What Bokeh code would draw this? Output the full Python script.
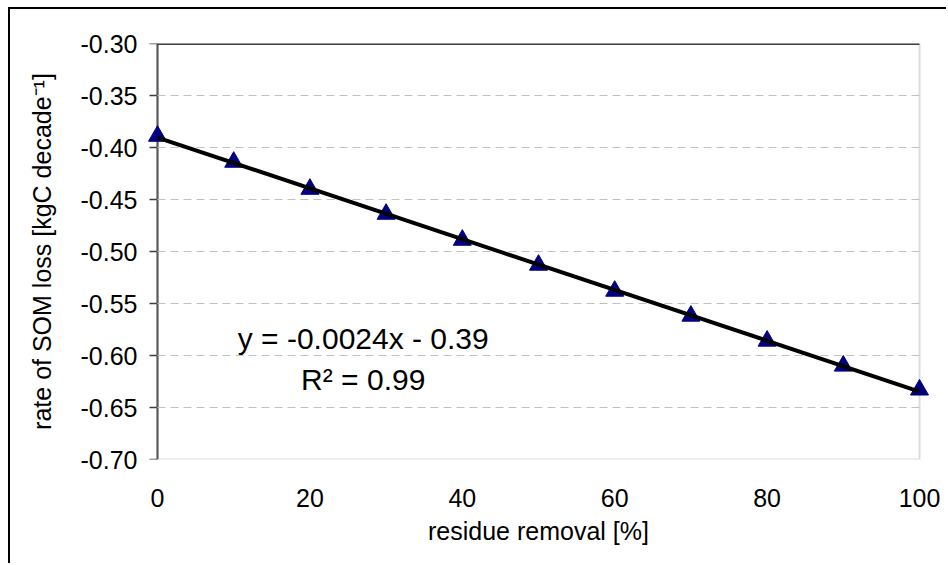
import numpy as np
from bokeh.plotting import figure
from bokeh.models import (BoxAnnotation, Label, FixedTicker, Range1d, LinearAxis,
                          CustomLabelingPolicy)
from bokeh.embed import file_html
from bokeh.resources import INLINE

# ---- data ----
residue_removal = [0, 10, 20, 30, 40, 50, 60, 70, 80, 90, 100]
som_loss_rate = [-0.389, -0.414, -0.440, -0.464, -0.489, -0.513,
                 -0.538, -0.562, -0.586, -0.610, -0.633]

y_tick_values = [-0.70, -0.65, -0.60, -0.55, -0.50, -0.45, -0.40, -0.35, -0.30]
y_tick_labels = ["-0.70", "-0.65", "-0.60", "-0.55", "-0.50", "-0.45",
                 "-0.40", "-0.35", "-0.30"]
x_tick_values = [0, 20, 40, 60, 80, 100]
x_tick_labels = ["0", "20", "40", "60", "80", "100"]

x_label = "residue removal [%]"
y_label = "rate of SOM loss [kgC decade\u207b\u00b9]"
eq_text = "y = -0.0024x - 0.39"
r2_text = "R\u00b2 = 0.99"

FONT = "Liberation Sans"
FS = "25px"

x_min, x_max = residue_removal[0], residue_removal[-1]
y_min, y_max = y_tick_values[0], y_tick_values[-1]
px_per_unit = 762 / (x_max - x_min)
pad = 12 / px_per_unit

p = figure(width=938, height=556,
           x_range=Range1d(x_min - pad, x_max + pad),
           y_range=Range1d(y_min, y_max),
           output_backend="svg", toolbar_location=None,
           min_border_left=135, min_border_right=17,
           min_border_top=34, min_border_bottom=106)
p.styles = {"margin-left": "8px", "margin-top": "7px",
            "border-left": "2px solid #000000",
            "border-top": "2px solid #000000"}
p.outline_line_color = None
p.background_fill_color = "white"
p.border_fill_color = "white"
p.xgrid.visible = False
p.ygrid.visible = False

# y axis line + ticks at x = 0 (inside the padded frame), no labels
ya = p.yaxis[0]
ya.fixed_location = x_min
ya.level = "underlay"
ya.ticker = FixedTicker(ticks=y_tick_values)
ya.major_label_policy = CustomLabelingPolicy(
    code="for (const i of indices) { indices.unset(i) }")
ya.major_label_standoff = 0
ya.major_tick_out = 8
ya.major_tick_in = 0
ya.minor_tick_line_color = None
ya.major_tick_line_color = "#404040"
ya.major_tick_line_width = 1.5
ya.axis_line_color = "#404040"
ya.axis_line_width = 2

# y tick labels + title on a second, line-less axis at the frame edge
yl = LinearAxis(ticker=FixedTicker(ticks=y_tick_values))
yl.major_label_overrides = dict(zip(y_tick_values, y_tick_labels))
yl.major_label_text_font = FONT
yl.major_label_text_font_size = FS
yl.major_label_text_color = "black"
yl.major_label_standoff = 8
yl.major_tick_out = 0
yl.major_tick_in = 0
yl.major_tick_line_color = None
yl.minor_tick_line_color = None
yl.axis_line_color = None
yl.axis_label = y_label
yl.axis_label_text_font = FONT
yl.axis_label_text_font_size = FS
yl.axis_label_text_font_style = "normal"
yl.axis_label_text_color = "black"
yl.axis_label_standoff = 22
p.add_layout(yl, "left")

# x axis
xa = p.xaxis[0]
xa.ticker = FixedTicker(ticks=x_tick_values)
xa.major_label_overrides = dict(zip(x_tick_values, x_tick_labels))
xa.major_label_text_font = FONT
xa.major_label_text_font_size = FS
xa.major_label_text_color = "black"
xa.major_label_standoff = 23
xa.major_tick_line_color = None
xa.minor_tick_line_color = None
xa.axis_line_color = None
xa.axis_label = x_label
xa.axis_label_text_font = FONT
xa.axis_label_text_font_size = FS
xa.axis_label_text_font_style = "normal"
xa.axis_label_text_color = "black"
xa.axis_label_standoff = 7

# dashed gridlines across the plot area
grid_vals = y_tick_values[1:-1]
p.segment(x0=[x_min] * len(grid_vals), x1=[x_max] * len(grid_vals),
          y0=grid_vals, y1=grid_vals,
          line_color="#c0c0c0", line_width=1, line_dash="8 5")

# plot area border
p.add_layout(BoxAnnotation(left=x_min, right=x_max, bottom=y_min, top=y_max,
                           fill_alpha=0, line_color="#8c8c8c", line_width=2,
                           level="underlay"))
p.segment(x0=[x_min], x1=[x_max], y0=[y_max], y1=[y_max],
          line_color="#404040", line_width=3)

# markers
p.scatter(residue_removal, som_loss_rate, marker="triangle", size=18,
          fill_color="#000080", line_color="#000080")

# linear trendline
slope, intercept = np.polyfit(residue_removal, som_loss_rate, 1)
p.line([x_min, x_max], [intercept + slope * x_min, intercept + slope * x_max],
       line_color="black", line_width=4)

# equation labels
for txt, yy in [(eq_text, -0.5837), (r2_text, -0.6231)]:
    p.add_layout(Label(x=27.0, y=yy, text=txt, text_align="center",
                       text_baseline="middle", text_font=FONT,
                       text_font_size="30px", text_color="black"))

open("out.html", "w").write(file_html(p, INLINE))
